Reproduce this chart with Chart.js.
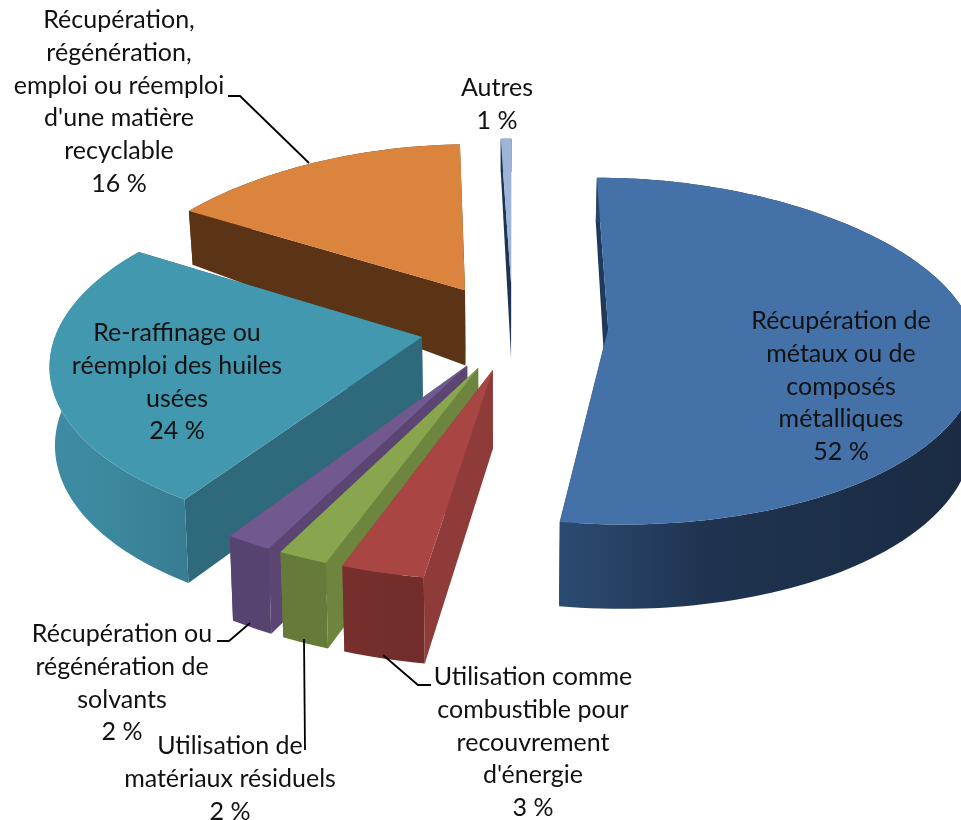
<!DOCTYPE html>
<html lang="fr"><head><meta charset="utf-8">
<style>html,body{margin:0;padding:0;background:#fff}canvas{display:block}</style>
<script src="https://cdn.jsdelivr.net/npm/chart.js@4"></script>
</head><body><canvas id="c" width="961" height="820"></canvas>
<script>
const categories = ["Récupération de métaux ou de composés métalliques","Utilisation comme combustible pour recouvrement d'énergie","Utilisation de matériaux résiduels","Récupération ou régénération de solvants","Re-raffinage ou réemploi des huiles usées","Récupération, régénération, emploi ou réemploi d'une matière recyclable","Autres"];
const shares = [52,3,2,2,24,16,1];
const shareLabels = ["52 %","3 %","2 %","2 %","24 %","16 %","1 %"];
const topColors = ["#4471a7","#a94542","#89a54e","#71588f","#4198af","#db843d","#9db5d8"];
const sideColors = ["#1f3a5c","#8f3b39","#6e8540","#5b4673","#2f6a7c","#5a3414","#1f3454"];
const wallStart = ["#2c4b72","#772f2d","#667a3a","#574370","#3d8ca4","#5a3414","#1f3454"];
const wallMid = ["#1f3350","#742e2c","#667a3a","#574370","#3c8aa0","#5a3414","#1f3454"];
const wallEnd = ["#1a2b42","#722d2b","#667a3a","#574370","#387d92","#5a3414","#1f3454"];
const labelLines = [
 ["Récupération de","métaux ou de","composés","métalliques"],
 ["Utilisation comme","combustible pour","recouvrement","d'énergie"],
 ["Utilisation de","matériaux résiduels"],
 ["Récupération ou","régénération de","solvants"],
 ["Re-raffinage ou","réemploi des huiles","usées"],
 ["Récupération,","régénération,","emploi ou réemploi","d'une matière","recyclable"],
 ["Autres"]];
const labelCentres = [[841,321],[533,677],[230,746],[122,634],[177,333],[119,20],[497,88]];
const labelStep = 32.8;
const leaders = [
 [[228,96],[240,96],[309,163]],
 [[217,641],[229,641],[250,623]],
 [[304,639],[305,750]],
 [[383,655],[418,685],[431,685]]];

// perspective projection of the pie plane
const P = {cx:514, cy:326, kx:1.07, ky:0.495, a:0.0004};
// apparent angular distortion of the 3D view: [angle, shift] in degrees
const warpTable = [[0,0],[187,1.4],[198,1.8],[205,1.4],[212,0.5],[299,3.4],[356,1.8],[360,0]];
function warp(t){
  const deg = (((t+Math.PI/2)*180/Math.PI)%360+360)%360;
  for(let i=1;i<warpTable.length;i++){
    const [a,sa]=warpTable[i-1],[b,sb]=warpTable[i];
    if(deg<=b) return t+(sa+(sb-sa)*(deg-a)/(b-a))*Math.PI/180;
  }
  return t;
}
function depth(v){ return v < -80 ? 75 + (v+80)*0.12 : 75 + (v+80)*0.022; }
function project(u,v,low){
  const s = 1/(1 - P.a*v);
  const far = v < -200 ? (v+200)/200 : 0;
  const x = P.cx + P.kx*s*u, y = P.cy + P.ky*s*v - 5*far*far;
  return low ? [x + (505-x)*0.012, y + depth(v)] : [x,y];
}
function path(ctx,pts){ ctx.beginPath(); pts.forEach((p,i)=> i?ctx.lineTo(p[0],p[1]):ctx.moveTo(p[0],p[1])); ctx.closePath(); }

const pie3d = {
 id:'pie3d',
 beforeDatasetDraw(chart,args){
  const ctx = chart.ctx, arcs = chart.getDatasetMeta(0).data;
  const items = arcs.map((arc,i)=>{
    const mid = (arc.startAngle+arc.endAngle)/2, off = arc.options.offset;
    const ou = Math.cos(mid)*off, ov = Math.sin(mid)*off, R = arc.outerRadius;
    const rim = [];
    const n = Math.max(4,Math.ceil((arc.endAngle-arc.startAngle)*40));
    for(let k=0;k<=n;k++){ const t0 = arc.startAngle+(arc.endAngle-arc.startAngle)*k/n;
      const t = (k===n && i===arcs.length-1) ? t0 : warp(t0);
      rim.push([ou+R*Math.cos(t), ov+R*Math.sin(t)]); }
    return {i,arc,ou,ov,rim,key:ov+R*0.6*Math.sin(mid)};
  }).sort((a,b)=>a.key-b.key);
  ctx.save();
  for(const it of items){
    const {i,arc,ou,ov,rim} = it;
    const apexT = project(ou,ov,false), apexB = project(ou,ov,true);
    ctx.fillStyle = sideColors[i];
    for(const r of [rim[0],rim[rim.length-1]]){
      path(ctx,[apexT,project(r[0],r[1],false),project(r[0],r[1],true),apexB]);
      ctx.fill();
    }
    const tops = rim.map(r=>project(r[0],r[1],false));
    const bots = rim.map(r=>project(r[0],r[1],true));
    const xs = tops.map(p=>p[0]);
    const g = ctx.createLinearGradient(Math.min(...xs),0,Math.max(...xs),0);
    g.addColorStop(0,wallStart[i]); g.addColorStop(0.35,wallMid[i]); g.addColorStop(1,wallEnd[i]);
    ctx.fillStyle = g;
    path(ctx,tops.concat(bots.slice().reverse())); ctx.fill();
    ctx.fillStyle = arc.options.backgroundColor;
    path(ctx,[apexT].concat(tops)); ctx.fill();
  }
  ctx.restore();
  return false;
 },
 afterDatasetsDraw(chart){
  const ctx = chart.ctx;
  ctx.save();
  ctx.strokeStyle = '#000'; ctx.lineWidth = 1.8;
  for(const l of leaders){ ctx.beginPath(); l.forEach((p,i)=> i?ctx.lineTo(p[0],p[1]):ctx.moveTo(p[0],p[1])); ctx.stroke(); }
  ctx.fillStyle = '#111'; ctx.font = '25px Lato'; ctx.textAlign='center'; ctx.textBaseline='middle';
  labelLines.forEach((lines,i)=>{
    const [x,y] = labelCentres[i];
    lines.concat(shareLabels[i]).forEach((t,k)=> ctx.fillText(t,x,y+k*labelStep));
  });
  ctx.restore();
 }
};

new Chart(document.getElementById('c'),{
 type:'pie',
 data:{labels:categories,datasets:[{data:shares,backgroundColor:topColors,borderWidth:0,offset:88,radius:340}]},
 options:{responsive:false,animation:false,radius:340,
  plugins:{legend:{display:false},tooltip:{enabled:false}}},
 plugins:[pie3d]
});
</script></body></html>
